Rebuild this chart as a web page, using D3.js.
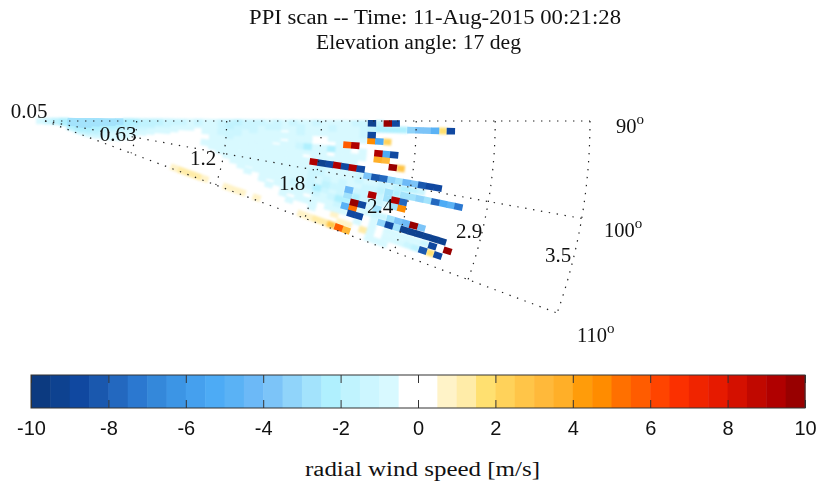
<!DOCTYPE html>
<html>
<head>
<meta charset="utf-8">
<script src="https://cdn.jsdelivr.net/npm/d3@7"></script>
<style>
body { margin: 0; background: #fff; }
text { fill: #111; }
.serif { font-family: "Liberation Serif", serif; }
.domain { display: none; }
</style>
</head>
<body>
<div id="chart"></div>
<script>
const width = 819, height = 483;
const _ = null;

// beam azimuths, one entry per row of gates below
const azimuths = [90.4, 91.4, 92.4, 93.4, 94.4, 95.4, 96.4, 97.4, 98.4, 99.4, 100.4, 101.4, 102.4, 103.4, 104.4, 105.4, 106.4, 107.4, 108.4, 109.4];

// radial wind speed per range gate [m/s]
const beam0 = [-1,-1.5,-2,-2.5,-3,-3,-3,-3,-3,-3, -3,-2.5,-2.5,-2,-2,-2,-1.5,-1.5,-1.5,-1, -1.5,-1,-1,-1.5,-1.5,-2,-1.5,-1.5,-1.5,-1, -1.5,-1,-1.5,-1,-1,-1.5,-1,-1,-1,-1, -1.5,-1.5,-9.5,-2,9.5,-9];
const beam1 = [_,-1.5,-2,-2.5,-3,-3,-3,-3,-3,-3, -2.5,-2.5,-2,-2,-2,-1.5,-1.5,-1,-1,-1, -1,-1,-1,-1.5,-2,-1.5,-1.5,-1.5,-1,-1.5, -1.5,-1,-1,-1.5,-1,-1,-1,-1.5,-1,-1, -1,-1.5,-2,-2.5,-2.5,-2.5,-2.5,-3.5,-4,-4,-5,1.5,-9];
const beam2 = [_,_,-2,-2.5,-3,-3,-3,-3,-2.5,-2.5, -2.5,-2,-2,-1.5,-1.5,-1,-1,-1,-1,-1, 0,-1,-1,-1,-1.5,-1.5,-1,-1.5,-1,-1, -1,0,-1,-1.5,-1,-1,-1,-1,-1,-1, -1,-1.5,-9];
const beam3 = [_,_,-2,-2.5,-3,-3,-3,-2.5,-2.5,-2.5, -2,-2,-1.5,-1.5,-1,-1,-1,-1,0,0, 0,-1,-1,-1.5,-1,-1.5,-1,-1,-1,-1, -1,-1,-1,-1,-1,0,0,-1,-1,-1, -1,-1,4.5,-5.5,2];
const beam4 = [_,_,_,-2,-2.5,-3,-3,-2.5,-2.5,-2, -2,-1.5,-1.5,-1,-1,-1,-1,0,0,0, 0,0,-1,-1,-1.5,-1,-1,-1,-1,-1, -1,0,-1,-1,-1,0,0,0,-1,5.5, 9];
const beam5 = [_,_,_,-2,-2.5,-3,-2.5,-2.5,-2,-2, -1.5,-1.5,-1,-1,-1,0,0,0,0,0, 0,0,-1,-1,-1,-1,-1,-1,-1,-1, 0,-1,-1,-1.5,-2.5,-1,-1,-2.5,-1,-1, 0,-1,0,9,-5.5,-9];
const beam6 = [_,_,_,_,-2.5,-2.5,-2.5,-2.5,-2,-1.5, -1.5,-1,-1,-1,0,0,0,0,0,0, 0,0,-1,-1,-1,-1,-1,-1,-1,-1, -1,-1,-1,-1,-1,-1,-1,0,-1,-1, -1,-1,0,3.5,3];
const beam7 = [_,_,_,_,-2.5,-2.5,-2.5,-2,-2,-1.5, -1,-1,-1,0,0,0,0,0,0,0, 0,-1,-1,-1,-1,-1,-1,-1,-1,-1, -1,-1,-1,-1,0,-1,-1,-1,-1,-1, -1,0,0,0,0,9.5,2.5];
const beam8 = [_,_,_,_,-2,-2.5,-2.5,-2,-1.5,-1, -1,-1,0,0,0,0,0,0,0,0, 0,0,-1,-1,-1,-1,-1,-1,-1,-1, -1,-1,-1,-1,-1,9,-9.5,-9,9,-9, 9,-9];
const beam9 = [_,_,_,_,-2,-2.5,-2.5,-2,-1.5,-1, -1,0,0,0,0,0,0,0,0,0, 0,0,0,-1,-1,-1,-1,-1,-1,-1, -1,-1,-1,-1,-1,-1,-1.5,-1,-1,-1, -1,-1.5,-4,-8.5,-8,-3.5,-3,-4.5,-4,-8.5, -9,-9];
const beam10 = [_,_,_,_,-2,-2.5,-2,-2,-1.5,-1, -1,-1,0,0,0,0,0,0,0,0, 0,0,0,0,-1,-1,-1,-1,-1,-1, -1,-1,-1,-1,-1,-1.5,-1.5,-1,-1,-1, -1,-1.5,-1,-1,-1.5,-1.5,-2,-2.5,-2,-1.5];
const beam11 = [_,_,_,_,-2,-2,-2,-1.5,-1.5,-1, -1,0,0,0,0,0,0,0,0,0, 0,0,0,0,0,-1,-1,-1,-1,-1, -1,-1,-1,-1,-1,-1.5,-1,-1.5,-1,-1.5, -1,-1,-1.5,-1.5,-2,-3,-2.5,-3,-3,-3.5, -3,-8,-5.5,-5,-7.5];
const beam12 = [_,_,_,_,-1.5,-2,-2,-1.5,-1,-1, -1,0,0,0,0,0,0,0,0,0, 0,0,0,0,0,0,-1,0,-1,-1, -1,-1,-1,-1,-1,-1.5,-1,-2,-1.5,-1.5, -4.5,-1.5,-1.5,9,-1.5,-3,9,-8];
const beam13 = [_,_,_,_,-1.5,-1.5,-1.5,-1,-1,-1, -0.5,0,0,0,0,0,0,0,0,0, 0,0,0,0,0,0,0,-1,0,-1, -1,-1,-1,-1.5,-1,-1.5,-2.5,-1.5,-1,-1.5, -3,-2.5,-1.5,-1,-1.5,-1,-3,4.5];
const beam14 = [_,_,_,_,-1,-1.5,-1,-1,-1,-0.5, _,_,_,_,_,_,_,_,_,_, _,_,_,_,_,_,0,0,0,-1, 0,-1,-1,-1,-1,-1,-1.5,-1,-1.5,-2.5, -2.5,9.5,-9,-1,-3];
const beam15 = [_,_,_,_,_,-1,-1,-1,-0.5,_, _,_,_,_,_,_,_,_,_,_, _,_,_,_,_,_,_,_,_,_, -1,0,-1,-1,-1,0,-1,-1,-1,-1.5, -5,5,-1,-1,-1.5,-1.5,-3,-4,-4.5,9.5, -4];
const beam16 = [_,_,_,_,_,-1,-1,-0.5,_,_, _,_,_,_,_,_,_,_,_,_, _,_,_,_,_,_,_,_,_,_, 0,0,-1,0,-1,-1,-1,0,-1,-1, -1,-9,-9,0,-1,-3.5,-9,-3,-9.5,-9.5, -9.5,-9.5,-9.5,-9.5];
const beam17 = [_,_,_,_,_,_,_,_,_,_, _,_,_,_,_,_,_,_,_,_, _,_,_,_,_,_,_,_,_,_, _,0,0,-1,0,0,-1,0,0,0.5, 0,0,-1,0,-1,0,-1,-1,-1,-1, -1,-1.5,-9,_,9.5];
const beam18 = [_,_,_,_,_,_,_,_,_,_, _,_,_,_,_,_,_,_,_,_, _,_,_,_,_,_,_,_,_,_, _,_,_,0,0,0,0,0,0,0, 0.5,0.5,0,1,-1,0,-1,-1,-1,-1.5, -2,-8.5,1.5,-9];
const beam19 = [_,_,_,_,_,_,_,_,_,_, _,_,_,_,_,_,_,_,0.5,1, 1,1,0.5,_,_,0.5,0.5,0.5,_,0.5, _,_,_,_,_,0.5,0.5,1,1,2.5, 5.5,3,_,_,-1,-1,-1,0];
const beams = [beam0, beam1, beam2, beam3, beam4, beam5, beam6, beam7, beam8, beam9, beam10, beam11, beam12, beam13, beam14, beam15, beam16, beam17, beam18, beam19];

const rangeTicks = [0.05, 0.63, 1.2, 1.8, 2.4, 2.9, 3.5];
const azimuthTicks = [90, 100, 110];
const speedTicks = [-10, -8, -6, -4, -2, 0, 2, 4, 6, 8, 10];
// colorbar, 40 steps of 0.5 m/s from -10 to 10
const barColors = ["#0c3a80","#0e4290","#1048a0","#1a58ae","#2368bf","#2b78d0","#3488da","#3c95e5","#45a0ee","#4dabf5",
  "#5ab2f5","#6cb9f7","#7cc4f8","#90d4fa","#a3e3fc","#b0f0fe","#c0f3fe","#ccf6ff","#d8f9ff","#ffffff",
  "#ffffff","#fff3c8","#ffeca8","#ffe070","#ffd25a","#ffc548","#ffb93a","#ffaf28","#ff9c0a","#ff8c00",
  "#ff7000","#ff5c00","#ff4400","#fb3000","#f02400","#e61a00","#d41000","#c00800","#b00000","#980000"];

const svg = d3.select("#chart").append("svg")
    .attr("width", width)
    .attr("height", height)
    .style("display", "block");

// polar part
const cx = 45, cy = 121, squash = 1.03;
const r = d3.scaleLinear().domain([0.05, 3.5]).range([0, 545]);
function project(az, range) {
    const p = d3.pointRadial(az * Math.PI / 180, r(range));
    return [cx + p[0], cy + p[1] * squash];
}

const speed = d3.scaleQuantize().domain([-10, 10]).range(barColors);

let cells = [];
beams.forEach(function(values, b) {
    values.forEach(function(v, g) {
        if (v === null) return;
        cells.push({az: azimuths[b], range: 0.02 + 0.05 * g, v: v});
    });
});
// the strong returns stay visible on top of the pale wash
cells.sort((a, b) => Math.abs(a.v) - Math.abs(b.v));

function drawCells(data, blur) {
    svg.append("g")
        .style("filter", `blur(${blur}px)`)
        .selectAll("rect")
        .data(data)
        .join("rect")
        .attr("x", -4.2)
        .attr("y", -3.3)
        .attr("width", 8.4)
        .attr("height", 6.6)
        .attr("transform", d => `translate(${project(d.az, d.range)}) rotate(${d.az - 90})`)
        .attr("fill", d => speed(d.v));
}
drawCells(cells.filter(d => Math.abs(d.v) < 3), 1);
drawCells(cells.filter(d => Math.abs(d.v) >= 3), 0.5);

// dotted grid
const line = d3.line();
const grid = svg.append("g")
    .attr("fill", "none")
    .attr("stroke", "#222")
    .attr("stroke-width", 1.2)
    .attr("stroke-dasharray", "1.4,6.6");

azimuthTicks.forEach(function(az) {
    grid.append("path").attr("d", line([project(az, 0.05), project(az, 3.5)]));
});
rangeTicks.slice(1).forEach(function(rg) {
    grid.append("path").attr("d", line(d3.range(90, 110.1, 1).map(a => project(a, rg))));
});

// labels on the grid
const rangeLabelX = [29, 118, 203, 292, 380, 469, 558];
const rangeLabelY = [118, 141, 165, 190, 213, 238, 262];
svg.append("g").selectAll("text")
    .data(rangeTicks)
    .join("text")
    .attr("class", "serif")
    .attr("x", (d, i) => rangeLabelX[i])
    .attr("y", (d, i) => rangeLabelY[i])
    .attr("text-anchor", "middle")
    .attr("font-size", 21)
    .text(d => d);

const azLabelX = [616, 604, 577];
const azLabelY = [133, 237, 342];
const azLabels = svg.append("g").selectAll("text")
    .data(azimuthTicks)
    .join("text")
    .attr("class", "serif")
    .attr("x", (d, i) => azLabelX[i])
    .attr("y", (d, i) => azLabelY[i])
    .attr("font-size", 20.5);
azLabels.append("tspan").text(d => d);
azLabels.append("tspan").attr("dy", -9).attr("font-size", 15).text("o");

// title, the picture is stretched sideways so the text lengths are fixed
svg.append("text").attr("class", "serif")
    .attr("x", 249).attr("y", 24)
    .attr("font-size", 20)
    .attr("textLength", 372).attr("lengthAdjust", "spacingAndGlyphs")
    .text("PPI scan -- Time: 11-Aug-2015 00:21:28");
svg.append("text").attr("class", "serif")
    .attr("x", 316).attr("y", 49)
    .attr("font-size", 20)
    .attr("textLength", 205).attr("lengthAdjust", "spacingAndGlyphs")
    .text("Elevation angle: 17 deg");

// colorbar
const barX = d3.scaleLinear().domain([-10, 10]).range([31, 805]);
const barTop = 375, barBottom = 408;
svg.append("g").selectAll("rect")
    .data(barColors)
    .join("rect")
    .attr("x", (d, i) => barX(-10 + i * 0.5))
    .attr("y", barTop)
    .attr("width", barX(-9.5) - barX(-10) + 0.5)
    .attr("height", barBottom - barTop)
    .attr("fill", d => d);

svg.append("rect")
    .attr("x", barX(-10)).attr("y", barTop)
    .attr("width", barX(10) - barX(-10)).attr("height", barBottom - barTop)
    .attr("fill", "none").attr("stroke", "#333").attr("stroke-width", 1);

const axisB = svg.append("g")
    .attr("transform", `translate(0, ${barBottom})`)
    .call(d3.axisBottom(barX).tickValues(speedTicks).tickSize(-8).tickPadding(13).tickFormat(d => String(d)));
axisB.selectAll("text").attr("font-family", "'Liberation Sans', Arial, sans-serif").attr("font-size", 20);
axisB.selectAll("line").attr("stroke", "#333");

const axisT = svg.append("g")
    .attr("transform", `translate(0, ${barTop})`)
    .call(d3.axisTop(barX).tickValues(speedTicks).tickSize(-8).tickFormat(""));
axisT.selectAll("line").attr("stroke", "#333");

svg.append("text").attr("class", "serif")
    .attr("x", 305).attr("y", 476)
    .attr("font-size", 20)
    .attr("textLength", 235).attr("lengthAdjust", "spacingAndGlyphs")
    .text("radial wind speed [m/s]");
</script>
</body>
</html>
